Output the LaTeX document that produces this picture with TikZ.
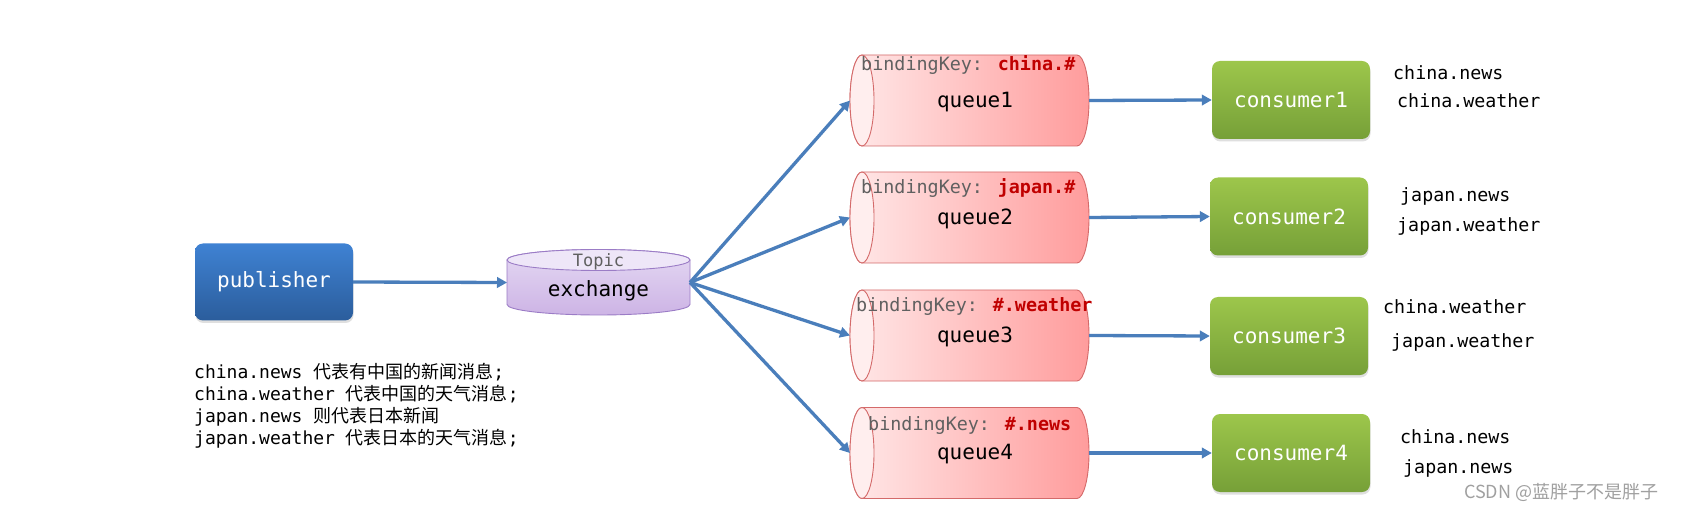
\documentclass[tikz,border=0pt]{standalone}
\usepackage{fontspec}
\setmainfont{DejaVu Sans Mono}
\setmonofont{DejaVu Sans Mono}
\newfontfamily\cjk{Noto Sans CJK SC}
\usetikzlibrary{arrows.meta,shadows}
\definecolor{arrowblue}{RGB}{74,126,187}
\definecolor{pubtop}{RGB}{63,130,211}
\definecolor{pubbot}{RGB}{43,93,156}
\definecolor{contop}{RGB}{157,198,75}
\definecolor{conbot}{RGB}{118,160,56}
\definecolor{qleft}{RGB}{255,232,232}
\definecolor{qright}{RGB}{255,156,156}
\definecolor{qborder}{RGB}{212,106,106}
\definecolor{qface}{RGB}{255,238,238}
\definecolor{exface}{RGB}{238,230,248}
\definecolor{extop}{RGB}{228,216,243}
\definecolor{exbot}{RGB}{205,180,229}
\definecolor{exborder}{RGB}{155,124,198}
\definecolor{keygray}{RGB}{96,96,96}
\definecolor{keyred}{RGB}{192,0,0}
\definecolor{wmgray}{RGB}{160,160,160}
\newcommand{\drawqueue}[2]{%
  \path[qbody] (862,{#2-45.5}) -- (1077,{#2-45.5})
     arc[start angle=90,end angle=-90,x radius=12pt,y radius=45.5pt]
     -- (862,{#2+45.5})
     arc[start angle=270,end angle=90,x radius=12pt,y radius=45.5pt] -- cycle;
  \path[qfacestyle] (862,#2) ellipse[x radius=12pt,y radius=45.5pt];
  \node[ghost, minimum width=239pt, minimum height=91pt] (#1) at (969.5,#2) {};
}
\newcommand{\redkey}[1]{\textcolor{keyred}{\bfseries #1}}
\tikzset{
  ghost/.style={inner sep=0pt, outer sep=0pt},
  conn/.style={draw=arrowblue, line width=3.3pt, -{Triangle[length=10pt,width=10.5pt]}},
  pubbox/.style={rounded corners=8pt, top color=pubtop, bottom color=pubbot, draw=none,
     minimum width=158pt, minimum height=77pt, text=white, font=\fontsize{21}{25}\selectfont,
     drop shadow={shadow xshift=0.5pt, shadow yshift=-2.5pt, opacity=0.25}},
  conbox/.style={rounded corners=8pt, top color=contop, bottom color=conbot, draw=none,
     minimum width=158pt, minimum height=78pt, text=white, font=\fontsize{21}{25}\selectfont,
     drop shadow={shadow xshift=0.5pt, shadow yshift=-2.5pt, opacity=0.25}},
  qbody/.style={draw=qborder, line width=0.9pt, left color=qleft, right color=qright},
  qfacestyle/.style={draw=qborder, line width=0.9pt, fill=qface},
  exbodystyle/.style={draw=exborder, line width=0.9pt, top color=extop, bottom color=exbot},
  exfacestyle/.style={draw=exborder, line width=0.9pt, fill=exface},
  bigtxt/.style={font=\fontsize{21}{25}\selectfont, inner sep=0pt},
  keytxt/.style={font=\fontsize{18.4}{22}\selectfont, text=keygray, anchor=base west, inner sep=0pt},
  sidetxt/.style={font=\fontsize{18.3}{22}\selectfont, anchor=base west, inner sep=0pt},
  desctxt/.style={font=\fontsize{18}{22}\selectfont, anchor=base west, inner sep=0pt},
}
\begin{document}
\begin{tikzpicture}[x=1pt,y=-1pt]
\useasboundingbox[fill=white] (0,0) rectangle (1688,510);

% publisher
\node[pubbox] (pub) at (274,282) {publisher};

% exchange
\path[exbodystyle] (507,260) -- (507,304.5)
   arc[start angle=180,end angle=360,x radius=91.5pt,y radius=10.5pt]
   -- (690,260)
   arc[start angle=0,end angle=180,x radius=91.5pt,y radius=10.5pt] -- cycle;
\path[exfacestyle] (598.5,260) ellipse[x radius=91.5pt,y radius=10.5pt];
\node[ghost, minimum width=183pt, minimum height=66pt] (ex) at (598.5,282.5) {};
\node[font=\fontsize{17}{20}\selectfont, text=keygray, inner sep=0pt] (topic) at (598.5,262) {Topic};
\node[bigtxt] (exlbl) at (598.5,291) {exchange};

% queues
\drawqueue{q1}{100.5}
\drawqueue{q2}{217.5}
\drawqueue{q3}{335.5}
\drawqueue{q4}{453}

\node[keytxt] (k1) at (861,71) {bindingKey: \redkey{china.\#}};
\node[keytxt] (k2) at (861,193.5) {bindingKey: \redkey{japan.\#}};
\node[keytxt] (k3) at (856,312) {bindingKey: \redkey{\#.weather}};
\node[keytxt] (k4) at (868,430.5) {bindingKey: \redkey{\#.news}};

\node[bigtxt] (ql1) at (975,102.5) {queue1};
\node[bigtxt] (ql2) at (975,219) {queue2};
\node[bigtxt] (ql3) at (975,337) {queue3};
\node[bigtxt] (ql4) at (975,454.5) {queue4};

% consumers
\node[conbox] (c1) at (1291,100) {consumer1};
\node[conbox] (c2) at (1289,216.5) {consumer2};
\node[conbox] (c3) at (1289,336) {consumer3};
\node[conbox] (c4) at (1291,453) {consumer4};

% connectors
\draw[conn] (pub.east) -- (ex.west);
\draw[conn] (ex.east) -- (q1.west);
\draw[conn] (ex.east) -- (q2.west);
\draw[conn] (ex.east) -- (q3.west);
\draw[conn] (ex.east) -- (q4.west);
\draw[conn] (q1.east) -- (c1.west);
\draw[conn] (q2.east) -- (c2.west);
\draw[conn] (q3.east) -- (c3.west);
\draw[conn] (q4.east) -- (c4.west);

% side labels
\node[sidetxt] (s1a) at (1393,80) {china.news};
\node[sidetxt] (s1b) at (1397,108) {china.weather};
\node[sidetxt] (s2a) at (1400,202) {japan.news};
\node[sidetxt] (s2b) at (1397,232) {japan.weather};
\node[sidetxt] (s3a) at (1383,314) {china.weather};
\node[sidetxt] (s3b) at (1391,347) {japan.weather};
\node[sidetxt] (s4a) at (1400,443) {china.news};
\node[sidetxt] (s4b) at (1403,473) {japan.news};

% description
\node[desctxt] (d1) at (194,378) {china.news {\cjk 代表有中国的新闻消息};};
\node[desctxt] (d2) at (194,400) {china.weather {\cjk 代表中国的天气消息};};
\node[desctxt] (d3) at (194,422) {japan.news {\cjk 则代表日本新闻}};
\node[desctxt] (d4) at (194,444) {japan.weather {\cjk 代表日本的天气消息};};

% watermark
\node[font=\cjk\fontsize{18}{22}\selectfont, text=wmgray, anchor=base west, inner sep=0pt] (wm) at (1464,498) {CSDN @蓝胖子不是胖子};
\end{tikzpicture}
\end{document}
